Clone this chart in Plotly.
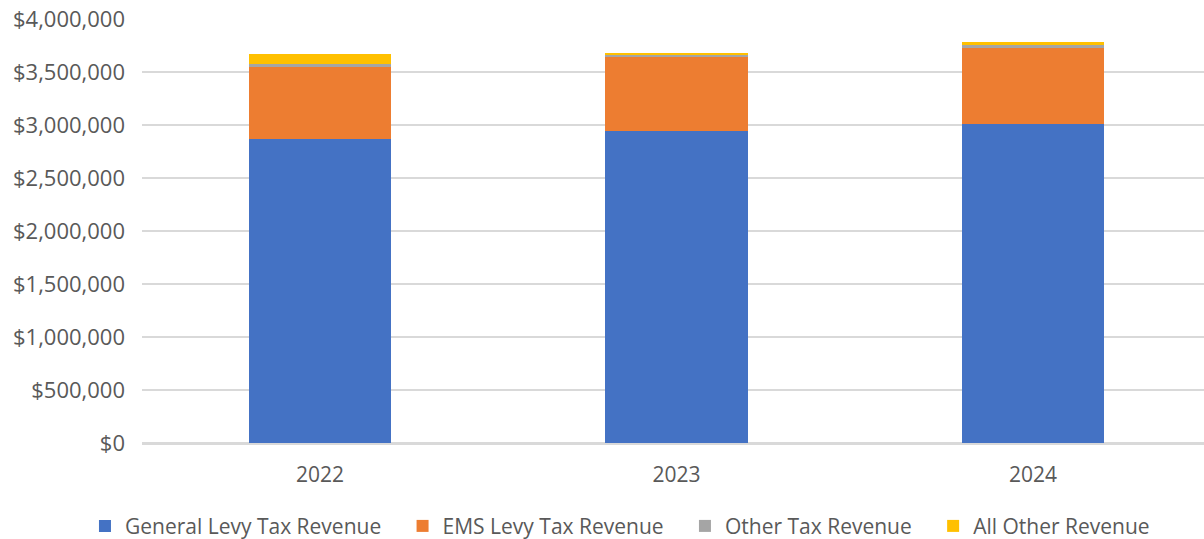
import plotly.graph_objects as go

years = ["2022", "2023", "2024"]
general_levy = [2865000, 2943000, 3006000]
ems_levy = [685000, 701000, 723000]
other_tax = [25000, 13000, 22000]
all_other = [94000, 25000, 28000]

series = [
    ("General Levy Tax Revenue", general_levy, "#4472C4"),
    ("EMS Levy Tax Revenue", ems_levy, "#ED7D31"),
    ("Other Tax Revenue", other_tax, "#A5A5A5"),
    ("All Other Revenue", all_other, "#FFC000"),
]

pad = "\u00a0" * 3
fig = go.Figure()
for i, (name, vals, color) in enumerate(series):
    label = name + (pad if i < len(series) - 1 else "")
    fig.add_trace(go.Bar(x=years, y=vals, name=label, marker=dict(color=color, line=dict(width=0))))

font_family = "Open Sans, Noto Sans, Liberation Sans, sans-serif"
fig.update_layout(
    barmode="stack",
    bargap=0.6,
    width=1204, height=539,
    margin=dict(l=142, r=0, t=19, b=96, autoexpand=False),
    paper_bgcolor="white", plot_bgcolor="white",
    font=dict(family=font_family, size=21, color="#595959"),
    yaxis=dict(
        range=[0, 4000000], dtick=500000, tickprefix="$", tickformat=",.0f",
        showgrid=True, gridcolor="#D9D9D9", gridwidth=1.5,
        zeroline=True, zerolinecolor="#D9D9D9", zerolinewidth=1.5,
        ticks="", ticklabelstandoff=16, tickfont=dict(size=22),
    ),
    xaxis=dict(showgrid=False, ticks="", showline=True, linecolor="#D9D9D9", linewidth=1.5,
               ticklabelstandoff=12, range=[-0.4993, 2.4797]),
    legend=dict(
        orientation="h", x=-0.0537, xanchor="left", y=-0.148, yanchor="top",
        font=dict(size=21, color="#595959"), itemwidth=30, traceorder="normal",
    ),
    showlegend=True,
)
fig.write_html("out.html")
